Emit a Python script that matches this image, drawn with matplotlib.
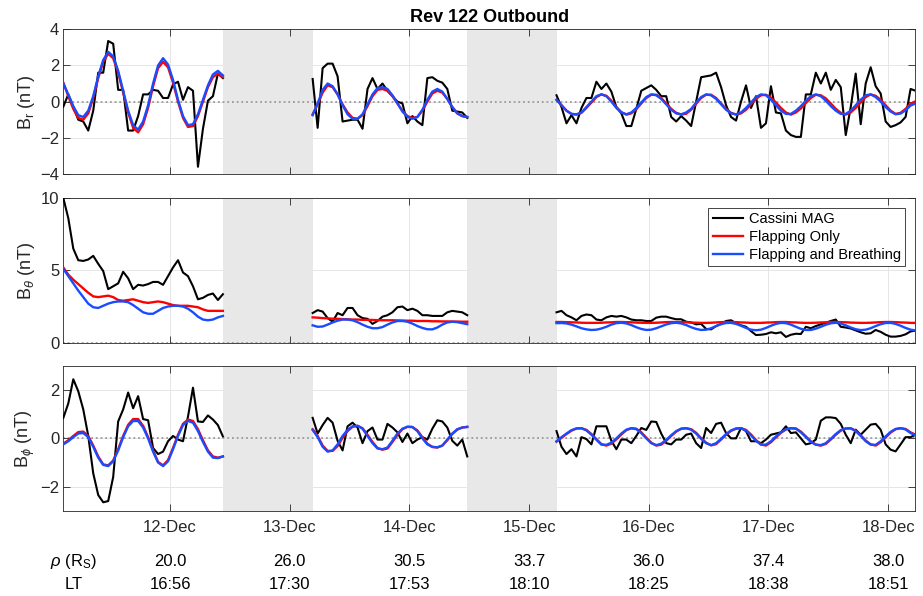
import numpy as np
import matplotlib
matplotlib.use("Agg")
import matplotlib.pyplot as plt
from matplotlib.transforms import blended_transform_factory

plt.rcParams["font.family"] = ["Liberation Sans", "DejaVu Sans"]
plt.rcParams["mathtext.fontset"] = "custom"
plt.rcParams["mathtext.rm"] = "Liberation Sans"
plt.rcParams["mathtext.it"] = "Liberation Sans:italic"

# time axis: hours since 12-Dec 00:00, hourly samples in three data intervals
SEG_START = [-21.4, 28.6, 77.5]
GAPS = [(10.7, 28.6), (59.5, 77.5)]
XLIM = (-21.4, 149.4)

day_ticks = [0, 24, 48, 72, 96, 120, 144]
day_labels = ["12-Dec", "13-Dec", "14-Dec", "15-Dec", "16-Dec", "17-Dec", "18-Dec"]
rho_rs = ["20.0", "26.0", "30.5", "33.7", "36.0", "37.4", "38.0"]
local_time = ["16:56", "17:30", "17:53", "18:10", "18:25", "18:38", "18:51"]

# B_r (nT): MAG, flapping only, flapping + breathing, per interval
br_mag = [
    [-0.28, 0.4, -0.3, -1.0, -1.1, -1.6, -0.5, 1.6, 1.6, 3.35, 3.2, 0.65, 0.65, -1.6, -1.6, -0.8, 0.4,
     0.4, 0.65, 0.6, 0.2, 0.2, 0.95, 1.1, 0.1, 0.8, 0.6, -3.6, -1.5, 0.05, 0.3, 1.55, 1.3],
    [1.25, -1.45, 1.85, 2.1, 2.1, 1.4, -1.1, -1.05, -1.0, -1.0, -1.5, 0.7, 1.3, 0.7, 1.0, 0.6, 0.3,
     0.0, -0.1, -1.2, -0.8, -1.1, -1.3, 1.3, 1.35, 1.15, 1.05, 0.7, -0.5, -0.55, -0.6, -0.9],
    [0.35, -0.3, -1.2, -0.75, -1.2, -0.35, 0.2, 0.2, 1.1, 0.7,
     1.0, 0.55, -0.3, -0.65, -1.35, -1.35, -0.4, 0.6, 0.75, 0.9,
     0.65, 0.3, 0.3, -0.85, -1.1, -0.8, -1.05, -1.35, 0.0, 1.35,
     1.4, 1.45, 1.6, 0.8, -0.2, -0.85, -1.05, 0.0, 0.9, -0.35,
     0.3, -1.45, -1.2, 0.85, -0.6, -0.65, -1.6, -1.85, -1.95, -1.95,
     0.4, 0.4, 1.6, 1.0, 1.6, 0.65, 1.2, 0.8, -1.85, -0.3,
     1.55, -1.25, 1.0, 1.9, 0.85, 0.45, -1.1, -1.4, -1.3, -1.15,
     -0.85, 0.7, 0.6],
]
br_flap = [
    [1.05, 0.3, -0.4, -0.9, -1.0, -0.65, 0.2, 1.3, 2.2, 2.65, 2.4, 1.6, 0.5, -0.6, -1.45, -1.7, -1.25,
     -0.35, 0.85, 1.85, 2.2, 1.9, 1.05, 0.0, -0.9, -1.4, -1.35, -0.8, 0.0, 0.8, 1.35, 1.55, 1.35],
    [-0.7, -0.15, 0.5, 0.9, 0.8, 0.4, -0.15, -0.6, -0.9, -0.95, -0.75, -0.25, 0.3, 0.65, 0.7, 0.6,
     0.3, -0.1, -0.5, -0.8, -0.9, -0.85, -0.5, 0.0, 0.45, 0.6, 0.5, 0.15, -0.3, -0.65, -0.8, -0.85],
    [0.1, -0.2, -0.5, -0.68, -0.72, -0.62, -0.35, -0.05, 0.25, 0.4,
     0.32, 0.05, -0.3, -0.58, -0.72, -0.65, -0.42, -0.1, 0.2, 0.38,
     0.38, 0.2, -0.1, -0.4, -0.62, -0.72, -0.67, -0.45, -0.12, 0.2,
     0.38, 0.38, 0.2, -0.1, -0.4, -0.62, -0.72, -0.65, -0.45, -0.15,
     0.15, 0.35, 0.38, 0.22, -0.05, -0.35, -0.6, -0.72, -0.6, -0.38,
     -0.08, 0.2, 0.38, 0.35, 0.18, -0.1, -0.4, -0.62, -0.72, -0.6,
     -0.35, -0.05, 0.25, 0.4, 0.32, 0.1, -0.2, -0.5, -0.68, -0.62,
     -0.4, -0.12, 0.02],
]
br_breath = [
    [1.0, 0.4, -0.25, -0.75, -0.85, -0.5, 0.3, 1.4, 2.3, 2.75, 2.5, 1.7, 0.6, -0.5, -1.3, -1.55, -1.1,
     -0.2, 1.0, 2.0, 2.4, 2.05, 1.2, 0.1, -0.8, -1.3, -1.25, -0.7, 0.1, 0.9, 1.5, 1.7, 1.45],
    [-0.75, -0.1, 0.65, 1.0, 0.85, 0.4, -0.2, -0.7, -0.95, -0.95, -0.7, -0.15, 0.4, 0.75, 0.8, 0.7,
     0.35, -0.1, -0.55, -0.85, -0.95, -0.85, -0.45, 0.1, 0.55, 0.7, 0.55, 0.15, -0.3, -0.65, -0.8, -0.85],
    [0.1, -0.2, -0.5, -0.68, -0.7, -0.6, -0.3, 0.0, 0.3, 0.4,
     0.3, 0.0, -0.35, -0.6, -0.7, -0.6, -0.35, -0.05, 0.25, 0.4,
     0.35, 0.15, -0.15, -0.45, -0.65, -0.7, -0.6, -0.4, -0.05, 0.25,
     0.4, 0.35, 0.15, -0.15, -0.45, -0.65, -0.7, -0.6, -0.35, -0.05,
     0.25, 0.4, 0.35, 0.1, -0.2, -0.5, -0.68, -0.68, -0.5, -0.25,
     0.05, 0.3, 0.4, 0.3, 0.05, -0.25, -0.5, -0.68, -0.68, -0.5,
     -0.2, 0.1, 0.35, 0.4, 0.25, 0.0, -0.3, -0.55, -0.7, -0.66,
     -0.48, -0.22, -0.1],
]

# B_theta (nT)
bt_mag = [
    [10.0, 8.6, 6.5, 5.7, 5.65, 5.75, 6.0, 5.45, 4.95, 3.7, 3.9, 4.1, 4.9, 4.45, 3.7, 4.0, 3.95,
     4.05, 4.2, 4.2, 4.0, 4.6, 5.2, 5.7, 4.85, 4.6, 3.9, 3.0, 3.1, 3.3, 3.4, 2.95, 3.35],
    [2.05, 2.25, 2.15, 1.7, 1.45, 2.05, 1.9, 2.4, 2.4, 1.9, 1.7, 1.65, 1.3, 1.5, 1.8, 1.9, 2.1,
     2.45, 2.5, 2.25, 2.35, 2.2, 1.9, 1.9, 1.85, 1.85, 1.85, 2.1, 2.2, 2.15, 2.1, 1.9],
    [2.1, 2.2, 1.9, 1.75, 1.55, 1.85, 1.95, 1.9, 1.6, 1.55,
     1.75, 1.85, 1.8, 1.85, 1.75, 1.6, 1.55, 1.55, 1.5, 1.5,
     1.73, 1.8, 1.8, 1.7, 1.62, 1.62, 1.45, 1.4, 1.27, 1.3,
     0.95, 0.92, 1.15, 1.3, 1.5, 1.55, 1.35, 1.2, 1.1, 0.8,
     0.53, 0.55, 0.6, 0.72, 0.65, 0.72, 0.4, 0.55, 0.62, 0.6,
     1.1, 1.0, 1.15, 1.27, 1.38, 1.5, 1.6, 1.1, 1.05, 0.98,
     0.85, 0.72, 0.62, 0.65, 0.88, 0.75, 0.55, 0.42, 0.42, 0.47,
     0.58, 0.78, 0.83],
]
bt_flap = [
    [5.2, 4.7, 4.35, 4.05, 3.75, 3.45, 3.2, 3.15, 3.2, 3.25, 3.15, 2.95, 2.9, 2.95, 3.0, 2.9, 2.8,
     2.75, 2.8, 2.85, 2.8, 2.7, 2.6, 2.55, 2.55, 2.55, 2.5, 2.45, 2.3, 2.2, 2.2, 2.2, 2.2],
    [1.75, 1.73, 1.7, 1.68, 1.66, 1.65, 1.63, 1.62, 1.6, 1.6, 1.58, 1.58, 1.57, 1.56, 1.55, 1.55,
     1.55, 1.54, 1.53, 1.52, 1.52, 1.5, 1.5, 1.5, 1.48, 1.48, 1.47, 1.47, 1.46, 1.46, 1.45, 1.45],
    [1.43, 1.43, 1.42, 1.41, 1.40, 1.38, 1.37, 1.37, 1.37, 1.38,
     1.40, 1.41, 1.43, 1.43, 1.42, 1.41, 1.39, 1.38, 1.37, 1.37,
     1.38, 1.40, 1.42, 1.43, 1.43, 1.42, 1.41, 1.39, 1.38, 1.37,
     1.37, 1.38, 1.40, 1.42, 1.43, 1.43, 1.42, 1.40, 1.39, 1.37,
     1.37, 1.37, 1.39, 1.40, 1.42, 1.43, 1.43, 1.41, 1.40, 1.38,
     1.37, 1.37, 1.38, 1.40, 1.41, 1.43, 1.43, 1.42, 1.41, 1.39,
     1.38, 1.37, 1.37, 1.38, 1.40, 1.42, 1.43, 1.43, 1.42, 1.40,
     1.39, 1.37, 1.37],
]
bt_breath = [
    [5.1, 4.6, 4.1, 3.6, 3.15, 2.7, 2.45, 2.4, 2.55, 2.7, 2.8, 2.85, 2.85, 2.8, 2.6, 2.35, 2.1,
     2.0, 2.0, 2.2, 2.4, 2.5, 2.55, 2.55, 2.5, 2.35, 2.1, 1.8, 1.6, 1.55, 1.6, 1.75, 1.85],
    [1.2, 1.1, 1.12, 1.25, 1.4, 1.52, 1.6, 1.6, 1.55, 1.42, 1.25, 1.1, 1.0, 1.0, 1.08, 1.25, 1.4,
     1.5, 1.5, 1.45, 1.32, 1.15, 1.02, 0.93, 0.92, 1.05, 1.25, 1.4, 1.45, 1.42, 1.35, 1.28],
    [1.35, 1.36, 1.33, 1.25, 1.13, 1.0, 0.92, 0.88, 0.9, 0.98,
     1.1, 1.25, 1.35, 1.38, 1.33, 1.22, 1.07, 0.95, 0.88, 0.9,
     1.0, 1.13, 1.26, 1.35, 1.38, 1.33, 1.22, 1.07, 0.95, 0.88,
     0.9, 1.0, 1.15, 1.28, 1.36, 1.37, 1.3, 1.17, 1.02, 0.9,
     0.86, 0.9, 1.02, 1.17, 1.3, 1.37, 1.35, 1.25, 1.1, 0.96,
     0.88, 0.88, 0.97, 1.1, 1.24, 1.34, 1.38, 1.32, 1.2, 1.05,
     0.93, 0.87, 0.9, 1.0, 1.15, 1.28, 1.36, 1.37, 1.3, 1.17,
     1.02, 0.9, 0.85],
]

# B_phi (nT)
bp_mag = [
    [0.85, 1.45, 2.45, 1.95, 1.2, 0.1, -1.45, -2.35, -2.65, -2.6, -1.6, 0.7, 1.2, 1.9, 1.25, 1.75,
     0.8, 0.75, -0.4, -0.65, -0.55, -0.12, 0.1, -0.05, -0.12, 0.9, 2.1, 0.7, 0.68, 0.95, 0.78, 0.55, 0.08],
    [0.85, 0.2, 0.55, 0.85, 0.65, -0.1, -0.5, 0.5, 0.65, 0.45, -0.2, 0.3, 0.45, -0.05, -0.05, 0.6,
     0.45, 0.25, -0.15, 0.2, -0.2, -0.05, 0.05, -0.05, 0.4, 0.75, 0.7, 0.45, -0.1, -0.3, -0.05, -0.75],
    [0.3, -0.35, -0.65, -0.45, -0.75, 0.05, -0.03, -0.25, 0.5, 0.5,
     0.5, -0.1, -0.45, -0.05, -0.05, -0.2, 0.1, 0.43, 0.35, 0.7,
     0.68, 0.2, -0.2, -0.25, -0.05, -0.05, 0.15, 0.2, -0.2, -0.4,
     0.43, 0.22, 0.6, 0.65, 0.22, 0.0, 0.0, 0.43, 0.3, -0.12,
     -0.12, -0.2, -0.05, 0.15, 0.2, 0.25, 0.5, 0.22, 0.25, 0.0,
     -0.25, -0.2, -0.05, 0.73, 0.87, 0.87, 0.84, 0.6, 0.15, -0.2,
     0.36, 0.15, 0.36, 0.57, 0.6, 0.36, -0.25, -0.47, -0.54, -0.25,
     0.05, 0.05, 0.15],
]
bp_flap = [
    [-0.22, -0.08, 0.1, 0.26, 0.28, 0.1, -0.3, -0.75, -1.08, -1.12, -0.92, -0.45, 0.1, 0.56, 0.8, 0.8,
     0.52, 0.05, -0.5, -0.98, -1.12, -0.9, -0.4, 0.15, 0.6, 0.78, 0.72, 0.38, -0.08, -0.5, -0.75, -0.8, -0.75],
    [0.38, 0.1, -0.3, -0.52, -0.52, -0.32, 0.02, 0.3, 0.48, 0.52, 0.42, 0.15, -0.15, -0.4, -0.47, -0.42,
     -0.15, 0.15, 0.38, 0.48, 0.47, 0.33, 0.05, -0.22, -0.36, -0.38, -0.3, -0.08, 0.18, 0.36, 0.45, 0.48],
    [-0.14, 0.02, 0.18, 0.32, 0.41, 0.42, 0.35, 0.18, -0.03, -0.24,
     -0.3, -0.22, -0.04, 0.16, 0.34, 0.42, 0.4, 0.25, 0.03, -0.18,
     -0.3, -0.26, -0.1, 0.1, 0.28, 0.4, 0.42, 0.38, 0.23, 0.01,
     -0.18, -0.29, -0.24, -0.05, 0.15, 0.31, 0.4, 0.42, 0.35, 0.16,
     -0.07, -0.25, -0.3, -0.16, 0.04, 0.23, 0.37, 0.42, 0.41, 0.28,
     0.08, -0.12, -0.26, -0.3, -0.23, -0.05, 0.15, 0.32, 0.41, 0.42,
     0.32, 0.13, -0.09, -0.25, -0.3, -0.16, 0.04, 0.24, 0.38, 0.42,
     0.39, 0.25, 0.15],
]
bp_breath = [
    [-0.25, -0.12, 0.05, 0.2, 0.22, 0.05, -0.35, -0.8, -1.1, -1.15, -0.95, -0.5, 0.05, 0.5, 0.72, 0.72,
     0.45, 0.0, -0.55, -1.0, -1.15, -0.95, -0.45, 0.1, 0.55, 0.72, 0.65, 0.3, -0.15, -0.55, -0.8, -0.82, -0.75],
    [0.35, 0.05, -0.35, -0.55, -0.5, -0.25, 0.1, 0.35, 0.5, 0.52, 0.4, 0.1, -0.2, -0.42, -0.45, -0.38,
     -0.1, 0.2, 0.4, 0.48, 0.47, 0.3, 0.0, -0.25, -0.35, -0.37, -0.3, -0.05, 0.2, 0.38, 0.45, 0.47],
    [-0.12, 0.05, 0.2, 0.34, 0.41, 0.42, 0.33, 0.15, -0.06, -0.26,
     -0.27, -0.18, 0.0, 0.2, 0.36, 0.42, 0.38, 0.22, 0.0, -0.2,
     -0.28, -0.22, -0.06, 0.13, 0.3, 0.4, 0.42, 0.36, 0.2, -0.02,
     -0.2, -0.28, -0.2, -0.02, 0.18, 0.33, 0.41, 0.42, 0.33, 0.13,
     -0.1, -0.26, -0.26, -0.12, 0.08, 0.25, 0.38, 0.42, 0.4, 0.25,
     0.05, -0.15, -0.26, -0.28, -0.2, -0.02, 0.18, 0.34, 0.41, 0.41,
     0.3, 0.1, -0.12, -0.26, -0.27, -0.12, 0.08, 0.27, 0.39, 0.42,
     0.37, 0.22, 0.12],
]

C_MAG = "black"
C_FLAP = "#ff0000"
C_BREATH = "#1a4cff"
AX_COL = "#262626"

fig = plt.figure(figsize=(9.23, 5.96), dpi=100)
L, W = 0.0686, 0.9228
panels = [
    (0.7081, br_mag, br_flap, br_breath, (-4, 4), [-4, -2, 0, 2, 4], r"B$_\mathrm{r}$ (nT)"),
    (0.4250, bt_mag, bt_flap, bt_breath, (0, 10), [0, 5, 10], r"B$_\theta$ (nT)"),
    (0.1431, bp_mag, bp_flap, bp_breath, (-3, 3), [-2, 0, 2], r"B$_\phi$ (nT)"),
]

axes = []
for bottom, mag, flap, breath, ylim, yticks, ylab in panels:
    ax = fig.add_axes([L, bottom, W, 0.2428])
    axes.append(ax)
    # light grid under the data-gap shading
    for xt in day_ticks:
        ax.axvline(xt, color="#e6e6e6", lw=0.7, zorder=0.2)
    for yt in yticks:
        ax.axhline(yt, color="#e6e6e6", lw=0.7, zorder=0.2)
    for g0, g1 in GAPS:
        ax.axvspan(g0, g1, color="#e8e8e8", lw=0, zorder=0.5)
    ax.axhline(0, color="#9a9a9a", lw=1.3, ls=(0, (1, 1.6)), zorder=0.8)

    for i in range(3):
        t = SEG_START[i] + np.arange(len(mag[i]))
        ax.plot(t, mag[i], color=C_MAG, lw=1.5, zorder=3,
                label="Cassini MAG" if i == 0 else None)
        ax.plot(t, flap[i], color=C_FLAP, lw=1.7, zorder=4,
                label="Flapping Only" if i == 0 else None)
        ax.plot(t, breath[i], color=C_BREATH, lw=1.7, zorder=5,
                label="Flapping and Breathing" if i == 0 else None)

    ax.set_xlim(*XLIM)
    ax.set_ylim(*ylim)
    ax.set_yticks(yticks)
    ax.set_xticks(day_ticks)
    ax.tick_params(direction="in", length=5, width=0.6, top=True, right=True,
                   colors=AX_COL, labelsize=12, pad=3)
    for sp in ax.spines.values():
        sp.set_color(AX_COL)
        sp.set_linewidth(0.6)
    ax.set_ylabel(ylab, fontsize=13, color=AX_COL)
    ax.yaxis.set_label_coords(-0.031, 0.5)
    ax.set_xticklabels([])

axes[0].set_title("Rev 122 Outbound", fontsize=13, fontweight="bold", pad=5)
axes[2].set_xticklabels(day_labels)
axes[2].tick_params(axis="x", pad=7)

leg = axes[1].legend(loc="upper right", bbox_to_anchor=(1 - 10 / 852, 1 - 10 / 144.4),
                     borderaxespad=0, fontsize=10.5, frameon=True, fancybox=False,
                     edgecolor=AX_COL, framealpha=1, handlelength=2.1,
                     handletextpad=0.35, labelspacing=0.25, borderpad=0.3)
leg.get_frame().set_linewidth(0.6)

# orbit position rows under the bottom axis
tr = blended_transform_factory(axes[2].transData, fig.transFigure)
for xt, r, lt in zip(day_ticks, rho_rs, local_time):
    fig.text(xt, 0.0587, r, transform=tr, ha="center", va="center", fontsize=12)
    fig.text(xt, 0.0201, lt, transform=tr, ha="center", va="center", fontsize=12)
fig.text(0.080, 0.0587, r"$\rho$ (R$_\mathrm{S}$)", ha="center", va="center", fontsize=12)
fig.text(0.080, 0.0201, "LT", ha="center", va="center", fontsize=12)

fig.savefig("out.png", dpi=100)
